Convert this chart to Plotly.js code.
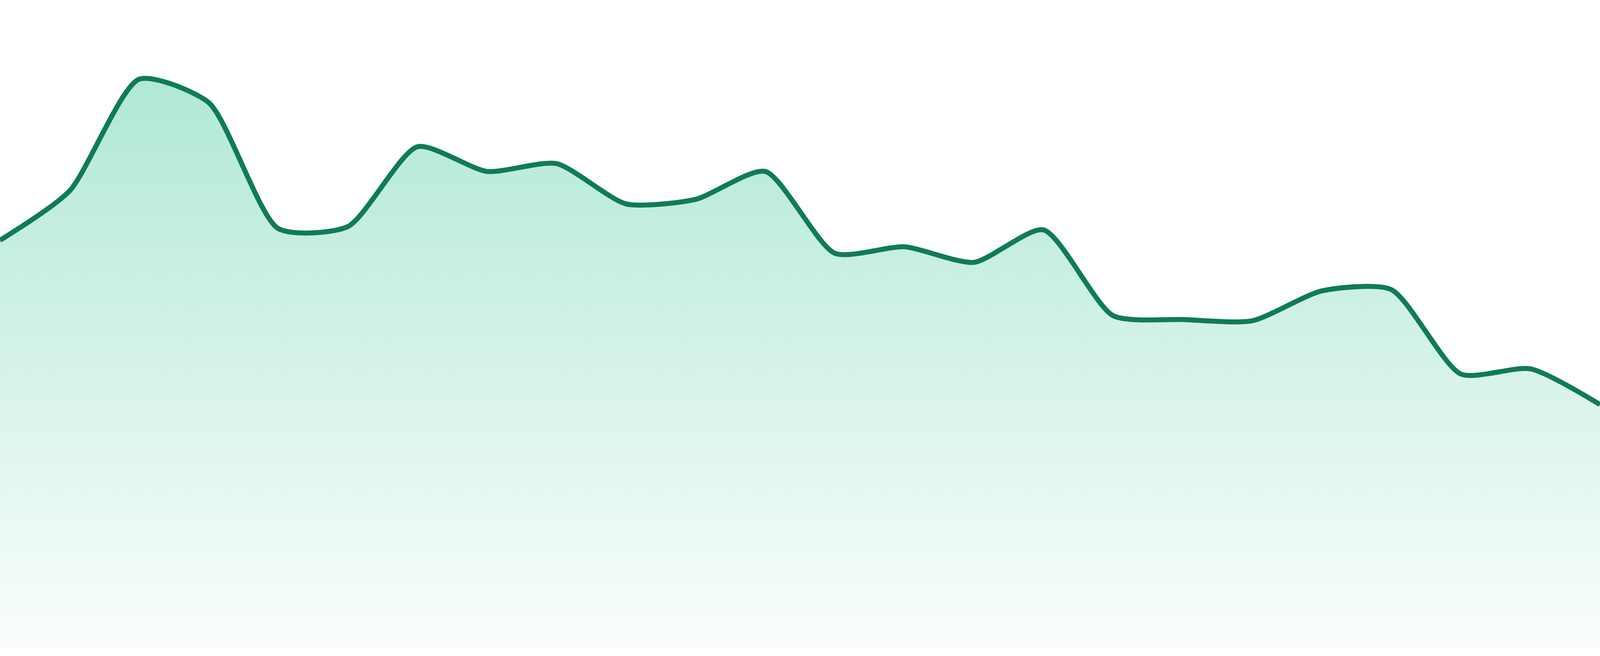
<!DOCTYPE html>
<html>
<head>
<meta charset="utf-8">
<script src="https://cdn.plot.ly/plotly-3.0.1.min.js"></script>
<style>
  html, body { margin: 0; padding: 0; background: #fff; overflow: hidden; }
  #chart { width: 100vw; height: 100vh; }
</style>
</head>
<body>
<div id="chart"></div>
<script>
// 24 evenly spaced samples, value as % of the axis height
const steps = [0, 1, 2, 3, 4, 5, 6, 7, 8, 9, 10, 11, 12, 13, 14, 15, 16, 17, 18, 19, 20, 21, 22, 23];
const values = [
  63.0, 70.6, 87.8, 84.2, 64.8, 65.1, 77.4, 73.6, 74.8, 68.6, 69.3, 73.6,
  61.0, 62.0, 59.6, 64.6, 51.4, 50.8, 50.6, 55.2, 55.4, 42.4, 43.2, 37.7,
];

const lineColor = '#107c52';

// the photo is 4800px wide; size strokes relative to that whatever the css viewport is
const W = window.innerWidth;
const H = window.innerHeight;
const px = W / 4800;

const trace = {
  x: steps,
  y: values,
  type: 'scatter',
  mode: 'lines',
  line: { color: lineColor, width: 15 * px, shape: 'spline', smoothing: 0.65 },
  fill: 'tozeroy',
  fillgradient: {
    type: 'vertical',
    colorscale: [
      [0, 'rgba(16,185,129,0.02)'],
      [1, 'rgba(16,185,129,0.33)'],
    ],
  },
  hoverinfo: 'skip',
  showlegend: false,
};

const layout = {
  width: W,
  height: H,
  paper_bgcolor: '#ffffff',
  plot_bgcolor: '#ffffff',
  margin: { t: 0, r: 0, b: Math.round(20 * px), l: 0, pad: 0 },
  showlegend: false,
  hovermode: false,
  xaxis: {
    visible: false,
    showgrid: false,
    zeroline: false,
    range: [steps[0], steps[steps.length - 1]],
    fixedrange: true,
  },
  yaxis: {
    visible: false,
    showgrid: false,
    zeroline: false,
    range: [0, 100],
    fixedrange: true,
  },
};

Plotly.newPlot('chart', [trace], layout, { displayModeBar: false, staticPlot: true });
</script>
</body>
</html>
